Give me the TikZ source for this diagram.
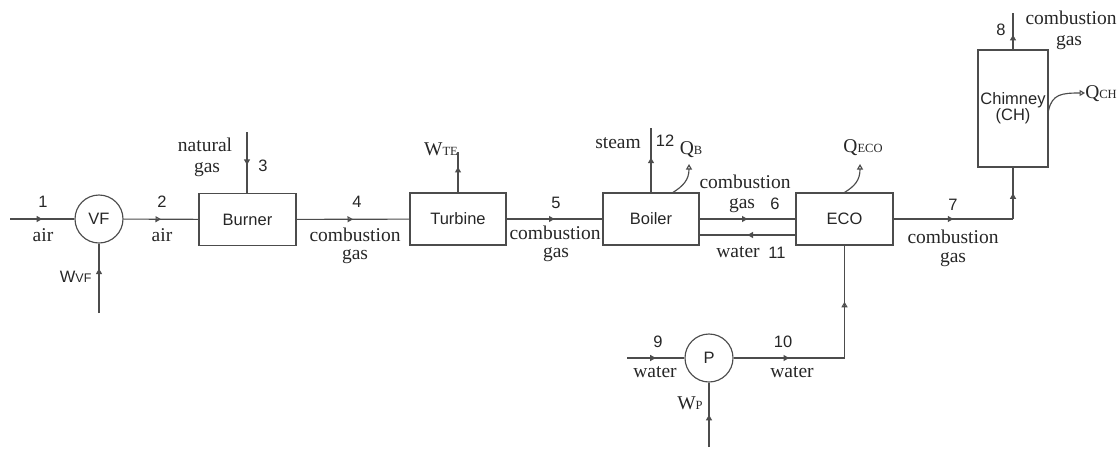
\documentclass[tikz,border=0pt]{standalone}
\usepackage{fontspec}
\setmainfont{Liberation Sans}
\newfontfamily\serf{Liberation Serif}
\usetikzlibrary{arrows.meta,decorations.markings,calc}
\newcommand{\sm}[1]{{\fontsize{12.5}{13}\selectfont #1}}
\begin{document}
\begin{tikzpicture}[x=1pt,y=-1pt,
  line width=1.15pt,
  color=black!70,
  Tri/.tip={Triangle[open,length=5.5pt,width=6pt]},
  flow/.style={postaction={decorate},decoration={markings,mark=at position #1 with {\arrow{Tri}}}},
  flow/.default=0.5,
  unit/.style={draw,rectangle,minimum width=97pt,minimum height=52pt,inner sep=0pt,text=black!85,font=\fontsize{16.5}{18}\selectfont},
  circ/.style={draw,circle,minimum size=48pt,inner sep=0pt,text=black!85,font=\fontsize{16.5}{18}\selectfont},
  num/.style={font=\fontsize{16.5}{18}\selectfont,inner sep=0pt,text=black!85},
  lbl/.style={font=\serf\fontsize{19.5}{20}\selectfont,inner sep=0pt,text=black!85},
  sl/.style={font=\fontsize{16.5}{18}\selectfont,inner sep=0pt,text=black!85}]
\useasboundingbox (0,0) rectangle (1118,448);
% units
\node[circ] (VF) at (99,219) {VF};
\node[unit] (burner) at (247.5,219.5) {Burner};
\node[unit,minimum width=96pt] (turbine) at (458,219) {Turbine};
\node[unit,minimum width=96pt] (boiler) at (651,219) {Boiler};
\node[unit] (ECO) at (844.5,219) {ECO};
\node[unit,minimum width=70pt,minimum height=117pt,align=center] (chim) at (1013,108.5) {Chimney\\[-2pt](CH)};
\node[circ] (P) at (709,358) {P};
% free ends
\coordinate (in1) at (10,219);
\coordinate (wvf) at (99,313);
\coordinate (ng) at (247,132);
\coordinate (wte) at (458,152);
\coordinate (st) at (651,128);
\coordinate (qb) at (689,164);
\coordinate (qeco) at (860,164);
\coordinate (c7) at (1013,219);
\coordinate (o8) at (1013,13);
\coordinate (qch) at (1085,93);
\coordinate (in9) at (627,358);
\coordinate (wp) at (709,447);
\coordinate (c10) at (ECO.south |- P);
% connectors
\draw[flow] (in1) -- (VF);
\draw[flow=0.64] (wvf) -- (VF);
\draw[flow] (VF) -- (burner);
\draw[flow=0.54] (ng) -- (ng |- burner.north);
\draw[flow] (burner) -- (turbine);
\draw[flow=0.63] (turbine.north) -- (wte);
\draw[flow] (turbine) -- (boiler);
\draw[flow=0.54] (boiler.north) -- (st);
\draw[-Tri] ($(boiler.north)+(22,0)$) .. controls (683,186) and (689,180) .. (qb);
\draw[flow] (boiler.east) -- (ECO.west);
\draw[flow] ($(ECO.west)+(0,16)$) -- ($(boiler.east)+(0,16)$);
\draw[-Tri] (ECO.north) .. controls (855,186) and (860,180) .. (qeco);
\draw[flow] (ECO.east) -- (c7);
\draw[flow] (c7) -- (chim.south);
\draw[flow=0.4] (chim.north) -- (o8);
\draw[-Tri] ($(chim.east)+(0,2)$) .. controls (1052,94) and (1062,93) .. (qch);
\draw[flow] (in9) -- (P);
\draw[flow] (P) -- (c10);
\draw[flow] (c10) -- (ECO.south);
\draw[flow] (wp) -- (P);
% labels
\node[num] (n1) at (43,202) {1};
\node[lbl] (a1) at (43,235) {air};
\node[num] (n2) at (162,202) {2};
\node[lbl] (a2) at (162,235) {air};
\node[sl,anchor=east] (lwvf) at (92,277) {W\sm{VF}};
\node[lbl] (ng1) at (205,145) {natural};
\node[lbl] (ng2) at (207,170) {gas};
\node[num] (n3) at (263,166) {3};
\node[num] (n4) at (357,202) {4};
\node[lbl] (c4a) at (355,235) {combustion};
\node[lbl] (c4b) at (355,257) {gas};
\node[lbl] (lwte) at (441,149) {W\sm{TE}};
\node[num] (n5) at (556,203) {5};
\node[lbl] (c5a) at (555,233) {combustion};
\node[lbl] (c5b) at (556,255) {gas};
\node[lbl] (lst) at (618,143) {steam};
\node[num] (n12) at (665,141) {12};
\node[lbl] (lqb) at (691,150) {Q\sm{B}};
\node[lbl] (c6a) at (745,182) {combustion};
\node[lbl] (c6b) at (742,206) {gas};
\node[num] (n6) at (775,204) {6};
\node[lbl] (w11) at (738,252) {water};
\node[num] (n11) at (777,253) {11};
\node[lbl] (lqeco) at (863,148) {Q\sm{ECO}};
\node[num] (n7) at (953,205) {7};
\node[lbl] (c7a) at (953,237) {combustion};
\node[lbl] (c7b) at (953,260) {gas};
\node[num] (n8) at (1001,30) {8};
\node[lbl] (c8a) at (1071,18) {combustion};
\node[lbl] (c8b) at (1069,43) {gas};
\node[lbl] (lqch) at (1101,94) {Q\sm{CH}};
\node[num] (n9) at (658,342) {9};
\node[lbl] (w9) at (655,372) {water};
\node[num] (n10) at (783,342) {10};
\node[lbl] (w10) at (792,372) {water};
\node[lbl] (lwp) at (690,403) {W\sm{P}};
\end{tikzpicture}
\end{document}
